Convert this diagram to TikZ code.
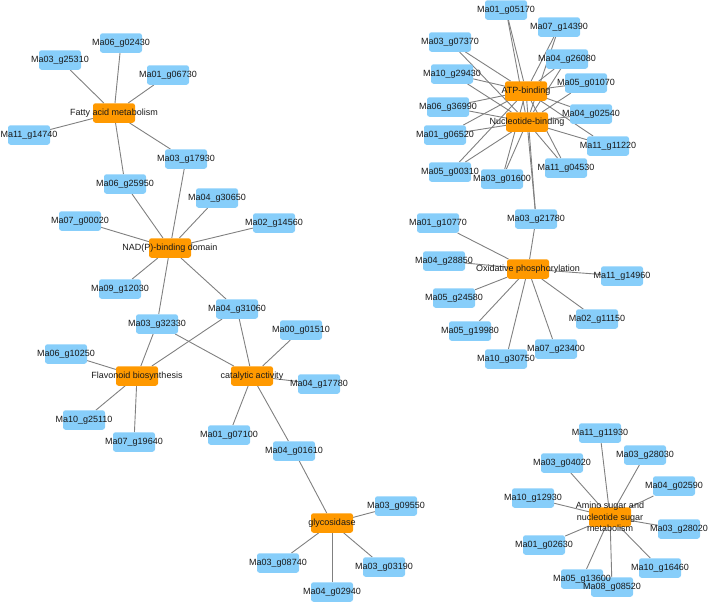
\documentclass[tikz,border=0pt]{standalone}
\usepackage{fontspec}
\setmainfont{Liberation Sans}
\usetikzlibrary{backgrounds}
\pgfdeclarelayer{labels}
\pgfsetlayers{background,main,labels}
\definecolor{geneblue}{RGB}{135,206,250}
\definecolor{termorange}{RGB}{255,153,0}
\definecolor{edgegray}{RGB}{128,128,128}
\tikzset{
  gene/.style={fill=geneblue, rounded corners=2.5pt, minimum width=42pt,
               minimum height=19.5pt, inner sep=0pt},
  term/.style={gene, fill=termorange},
  txt/.style={inner sep=0pt, text=black!90, font=\fontsize{9}{11.7}\selectfont,
              align=center},
  edge/.style={draw=edgegray, line width=0.9pt}
}
\begin{document}
\begin{tikzpicture}[x=1pt, y=-1pt]
  \useasboundingbox (0,0) rectangle (709,603);
  % genes
  \foreach \n/\x/\y/\t in {
      m06g02430/121/43/Ma06\_g02430, m03g25310/60/60/Ma03\_g25310,
      m01g06730/168/75/Ma01\_g06730, m11g14740/29/135/Ma11\_g14740,
      m03g17930/186/159/Ma03\_g17930, m06g25950/125/184/Ma06\_g25950,
      m04g30650/217/198/Ma04\_g30650, m07g00020/80/221/Ma07\_g00020,
      m02g14560/274/223/Ma02\_g14560, m09g12030/120/289/Ma09\_g12030,
      m04g31060/237/309/Ma04\_g31060, m03g32330/157/324/Ma03\_g32330,
      m00g01510/301/330/Ma00\_g01510, m06g10250/66/354/Ma06\_g10250,
      m04g17780/319/384/Ma04\_g17780, m10g25110/84/420/Ma10\_g25110,
      m01g07100/229/435/Ma01\_g07100, m07g19640/134/442/Ma07\_g19640,
      m04g01610/294/451/Ma04\_g01610, m03g09550/396/506/Ma03\_g09550,
      m03g08740/278/563/Ma03\_g08740, m03g03190/384/567/Ma03\_g03190,
      m04g02940/332/592/Ma04\_g02940,
      m01g05170/506/10/Ma01\_g05170, m07g14390/559/27/Ma07\_g14390,
      m03g07370/450/42/Ma03\_g07370, m04g26080/567/59/Ma04\_g26080,
      m10g29430/452/74/Ma10\_g29430, m05g01070/586/83/Ma05\_g01070,
      m06g36990/448/107/Ma06\_g36990, m04g02540/591/114/Ma04\_g02540,
      m01g06520/445/135/Ma01\_g06520, m11g11220/608/146/Ma11\_g11220,
      m03g01600/502/179/Ma03\_g01600, m11g04530/566/168/Ma11\_g04530,
      m05g00310/450/172/Ma05\_g00310, m03g21780/536/219/Ma03\_g21780,
      m01g10770/438/223/Ma01\_g10770, m04g28850/444/261/Ma04\_g28850,
      m11g14960/622/276/Ma11\_g14960, m05g24580/454/298/Ma05\_g24580,
      m02g11150/597/319/Ma02\_g11150, m05g19980/470/331/Ma05\_g19980,
      m10g30750/506/359/Ma10\_g30750, m07g23400/556/349/Ma07\_g23400,
      m11g11930/600/433/Ma11\_g11930, m03g28030/645/455/Ma03\_g28030,
      m03g04020/562/463/Ma03\_g04020, m04g02590/674/486/Ma04\_g02590,
      m10g12930/533/498/Ma10\_g12930, m03g28020/679/529/Ma03\_g28020,
      m01g02630/544/545/Ma01\_g02630, m10g16460/660/568/Ma10\_g16460,
      m08g08520/612/587/Ma08\_g08520, m05g13600/582/579/Ma05\_g13600} {
    \node[gene] (\n) at (\x,\y) {};
    \begin{pgfonlayer}{labels}
      \node[txt] (\n-t) at (\n) {\t};
    \end{pgfonlayer}
  }
  % terms
  \foreach \n/\x/\y/\t in {
      fatty/114/113/Fatty acid metabolism,
      nadp/170/248/NAD(P)-binding domain,
      flavo/137/376/Flavonoid biosynthesis,
      catal/252/376/catalytic activity,
      glyco/332/523/glycosidase,
      atp/526/91/ATP-binding,
      nucl/527/122/Nucleotide-binding,
      oxph/528/269/Oxidative phosphorylation,
      amino/610/517/{Amino sugar and\\nucleotide sugar\\metabolism}} {
    \node[term] (\n) at (\x,\y) {};
    \begin{pgfonlayer}{labels}
      \node[txt] (\n-t) at (\n) {\t};
    \end{pgfonlayer}
  }
  % connectors
  \begin{scope}[on background layer]
    \foreach \g in {m06g02430,m03g25310,m01g06730,m11g14740,m03g17930,m06g25950}
      \draw[edge] (fatty) -- (\g);
    \foreach \g in {m06g25950,m03g17930,m04g30650,m07g00020,m02g14560,m09g12030,
                    m03g32330,m04g31060}
      \draw[edge] (nadp) -- (\g);
    \foreach \g in {m03g32330,m04g31060,m06g10250,m10g25110,m07g19640}
      \draw[edge] (flavo) -- (\g);
    \foreach \g in {m03g32330,m04g31060,m00g01510,m04g17780,m01g07100,m04g01610}
      \draw[edge] (catal) -- (\g);
    \foreach \g in {m04g01610,m03g09550,m03g08740,m04g02940,m03g03190}
      \draw[edge] (glyco) -- (\g);
    \foreach \g in {m01g05170,m07g14390,m03g07370,m04g26080,m10g29430,m05g01070,
                    m06g36990,m04g02540,m01g06520,m11g11220,m05g00310,m11g04530,
                    m03g01600,m03g21780} {
      \draw[edge] (atp) -- (\g);
      \draw[edge] (nucl) -- (\g);
    }
    \foreach \g in {m03g21780,m01g10770,m04g28850,m11g14960,m05g24580,m02g11150,
                    m05g19980,m07g23400,m10g30750}
      \draw[edge] (oxph) -- (\g);
    \foreach \g in {m11g11930,m03g28030,m03g04020,m04g02590,m10g12930,m03g28020,
                    m01g02630,m10g16460,m05g13600,m08g08520}
      \draw[edge] (amino) -- (\g);
  \end{scope}
\end{tikzpicture}
\end{document}
